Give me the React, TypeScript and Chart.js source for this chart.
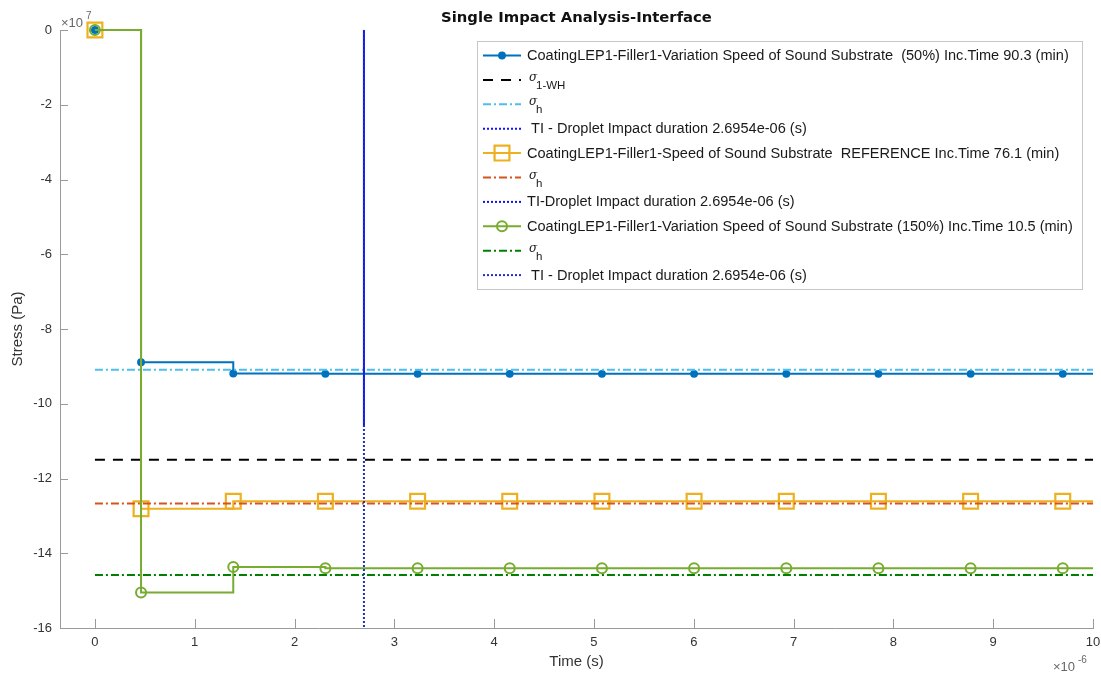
import React, { useEffect, useRef } from 'react';
import Chart from 'chart.js/auto';

// ---- data (time in 1e-6 s, stress in 1e7 Pa) ----
const timeMarks = [0, 0.462, 1.386, 2.309, 3.233, 4.156, 5.08, 6.003, 6.927, 7.85, 8.774, 9.697, 10];
const stress50 = [0, -8.89, -9.19, -9.2, -9.2, -9.2, -9.2, -9.2, -9.2, -9.2, -9.2, -9.2, -9.2];
const stressRef = [0, -12.81, -12.61, -12.61, -12.61, -12.61, -12.61, -12.61, -12.61, -12.61, -12.61, -12.61, -12.61];
const stress150 = [0, -15.05, -14.37, -14.4, -14.4, -14.4, -14.4, -14.4, -14.4, -14.4, -14.4, -14.4, -14.4];
const sigma1WH = -11.5;
const sigmaH50 = -9.09;
const sigmaHRef = -12.67;
const sigmaH150 = -14.58;
const refLineX = [0, 10];
const impactDuration = 2.6954;
const impactTop = 0;
const impactBottoms = [-10.6, -10.6, -16];
const xTickValues = [0, 1, 2, 3, 4, 5, 6, 7, 8, 9, 10];
const yTickValues = [0, -2, -4, -6, -8, -10, -12, -14, -16];

const legendLabels = [
  { text: 'CoatingLEP1-Filler1-Variation Speed of Sound Substrate  (50%) Inc.Time 90.3 (min)' },
  { sigma: '1-WH' },
  { sigma: 'h' },
  { text: ' TI - Droplet Impact duration 2.6954e-06 (s)' },
  { text: 'CoatingLEP1-Filler1-Speed of Sound Substrate  REFERENCE Inc.Time 76.1 (min)' },
  { sigma: 'h' },
  { text: 'TI-Droplet Impact duration 2.6954e-06 (s)' },
  { text: 'CoatingLEP1-Filler1-Variation Speed of Sound Substrate (150%) Inc.Time 10.5 (min)' },
  { sigma: 'h' },
  { text: ' TI - Droplet Impact duration 2.6954e-06 (s)' },
];

const C_BLUE = '#0072BD';
const C_LBLUE = '#4DBEEE';
const C_ORANGE = '#EDB120';
const C_RED = '#D95319';
const C_GREEN = '#77AC30';
const C_DGREEN = '#008000';
const C_TI = ['#1010ff', '#1010ff', '#2030c0'];
const FONT = "'Liberation Sans', Arial, Helvetica, sans-serif";
const AXIS_COLOR = '#9a9a9a';
const TEXT_COLOR = '#333333';

const DASH = [10, 8];
const DASHDOT = [8, 3, 2, 3];
const DOT = [2, 2];

function series(xs: number[], ys: number[]) {
  return xs.map((x, i) => ({ x, y: ys[i] }));
}
function hline(y: number) {
  return refLineX.map((x) => ({ x, y }));
}
function vline(bottom: number) {
  return [{ x: impactDuration, y: impactTop }, { x: impactDuration, y: bottom }];
}
function markerRadii(r: number) {
  return timeMarks.map((_, i) => (i === timeMarks.length - 1 ? 0 : r));
}

function drawMarker(ctx: CanvasRenderingContext2D, ds: any, x: number, y: number) {
  const style = ds.pointStyle;
  const r = Array.isArray(ds.pointRadius) ? ds.pointRadius[0] : ds.pointRadius;
  if (!r) return;
  ctx.save();
  ctx.setLineDash([]);
  ctx.lineWidth = ds.pointBorderWidth;
  ctx.strokeStyle = ds.pointBorderColor;
  ctx.fillStyle = ds.pointBackgroundColor;
  ctx.beginPath();
  if (style === 'rect') {
    const s = Math.SQRT1_2 * r;
    ctx.rect(x - s, y - s, 2 * s, 2 * s);
  } else {
    ctx.arc(x, y, r, 0, Math.PI * 2);
  }
  if (ds.pointBackgroundColor && ds.pointBackgroundColor !== 'transparent') ctx.fill();
  ctx.stroke();
  ctx.restore();
}

const decorPlugin = {
  id: 'decor',
  afterDraw(chart: any) {
    const ctx: CanvasRenderingContext2D = chart.ctx;
    const xs = chart.scales.x;
    const ys = chart.scales.y;
    const area = chart.chartArea;
    ctx.save();
    // inward tick marks
    ctx.strokeStyle = AXIS_COLOR;
    ctx.lineWidth = 1;
    ctx.setLineDash([]);
    ctx.beginPath();
    xTickValues.forEach((v) => {
      const px = Math.round(xs.getPixelForValue(v)) + 0.5;
      ctx.moveTo(px, area.bottom);
      ctx.lineTo(px, area.bottom - 9);
    });
    yTickValues.forEach((v) => {
      const py = Math.round(ys.getPixelForValue(v)) + 0.5;
      ctx.moveTo(area.left, py);
      ctx.lineTo(area.left + 8, py);
    });
    ctx.stroke();

    // title
    ctx.fillStyle = '#111';
    ctx.font = "bold 14.8px 'DejaVu Sans', sans-serif";
    ctx.textAlign = 'center';
    ctx.textBaseline = 'middle';
    ctx.fillText('Single Impact Analysis-Interface', (area.left + area.right) / 2, 18);

    // axis titles
    ctx.fillStyle = TEXT_COLOR;
    ctx.font = `15px ${FONT}`;
    ctx.fillText('Time (s)', (area.left + area.right) / 2, 662);
    ctx.save();
    ctx.translate(18, (area.top + area.bottom) / 2);
    ctx.rotate(-Math.PI / 2);
    ctx.fillText('Stress (Pa)', 0, 0);
    ctx.restore();

    // exponents
    ctx.textAlign = 'left';
    ctx.textBaseline = 'alphabetic';
    ctx.fillStyle = '#666';
    ctx.font = `13px ${FONT}`;
    ctx.fillText('\u00d710', 61, 27);
    ctx.font = `10px ${FONT}`;
    ctx.fillText('7', 86, 19);
    ctx.font = `13px ${FONT}`;
    ctx.fillText('\u00d710', 1053, 671);
    ctx.font = `10px ${FONT}`;
    ctx.fillText('-6', 1078, 663);

    // legend
    const bx = 477, by = 41, bw = 605, bh = 248;
    ctx.fillStyle = '#ffffff';
    ctx.fillRect(bx, by, bw, bh);
    ctx.strokeStyle = '#c6c6c6';
    ctx.lineWidth = 1;
    ctx.strokeRect(bx + 0.5, by + 0.5, bw, bh);
    ctx.font = `13px ${FONT}`;
    const longest = Math.max(...legendLabels.map((l: any) => (l.text ? ctx.measureText(l.text).width : 0)));
    const legendSize = Math.min(15, 13 * 546 / longest);
    const datasets = chart.data.datasets;
    legendLabels.forEach((lab: any, i: number) => {
      const ds = datasets[i];
      const cy = 55.5 + i * 24.4;
      const x0 = 483, x1 = 521;
      ctx.save();
      ctx.strokeStyle = ds.borderColor;
      ctx.lineWidth = ds.borderWidth;
      ctx.setLineDash(ds.borderDash || []);
      ctx.beginPath();
      ctx.moveTo(x0, cy);
      ctx.lineTo(x1, cy);
      ctx.stroke();
      ctx.restore();
      drawMarker(ctx, ds, (x0 + x1) / 2, cy);
      ctx.fillStyle = '#1a1a1a';
      ctx.textBaseline = 'middle';
      ctx.textAlign = 'left';
      if (lab.text !== undefined) {
        ctx.font = `${legendSize}px ${FONT}`;
        ctx.fillText(lab.text, 527, cy + 0.5);
      } else {
        ctx.font = "italic 12px 'DejaVu Serif', serif";
        ctx.fillText('\u03c3', 529, cy - 2);
        ctx.font = `11.5px ${FONT}`;
        ctx.fillText(lab.sigma, 536, cy + 6);
      }
    });
    ctx.restore();
  },
};

export default function App() {
  const ref = useRef<HTMLCanvasElement>(null);
  useEffect(() => {
    if (!ref.current) return;
    const noPoint = { pointRadius: 0, pointHoverRadius: 0 };
    const datasets: any[] = [
      {
        label: 'LEP1 50%', data: series(timeMarks, stress50), stepped: true, showLine: true,
        borderColor: C_BLUE, borderWidth: 2, pointStyle: 'circle', pointRadius: markerRadii(3.2),
        pointBackgroundColor: C_BLUE, pointBorderColor: C_BLUE, pointBorderWidth: 1.5,
      },
      { label: 'sigma1WH', data: hline(sigma1WH), showLine: true, borderColor: '#000', borderWidth: 2, borderDash: DASH, ...noPoint },
      { label: 'sigmaH50', data: hline(sigmaH50), showLine: true, borderColor: C_LBLUE, borderWidth: 2, borderDash: DASHDOT, ...noPoint },
      { label: 'TI1', data: vline(impactBottoms[0]), showLine: true, borderColor: C_TI[0], borderWidth: 2, borderDash: DOT, ...noPoint },
      {
        label: 'LEP1 REF', data: series(timeMarks, stressRef), stepped: true, showLine: true,
        borderColor: C_ORANGE, borderWidth: 2, pointStyle: 'rect', pointRadius: markerRadii(10.5),
        pointBackgroundColor: 'transparent', pointBorderColor: C_ORANGE, pointBorderWidth: 2.2,
      },
      { label: 'sigmaHRef', data: hline(sigmaHRef), showLine: true, borderColor: C_RED, borderWidth: 2, borderDash: DASHDOT, ...noPoint },
      { label: 'TI2', data: vline(impactBottoms[1]), showLine: true, borderColor: C_TI[1], borderWidth: 2, borderDash: DOT, borderDashOffset: 2, ...noPoint },
      {
        label: 'LEP1 150%', data: series(timeMarks, stress150), stepped: true, showLine: true,
        borderColor: C_GREEN, borderWidth: 2, pointStyle: 'circle', pointRadius: markerRadii(5),
        pointBackgroundColor: 'transparent', pointBorderColor: C_GREEN, pointBorderWidth: 2,
      },
      { label: 'sigmaH150', data: hline(sigmaH150), showLine: true, borderColor: C_DGREEN, borderWidth: 2, borderDash: DASHDOT, ...noPoint },
      { label: 'TI3', data: vline(impactBottoms[2]), showLine: true, borderColor: C_TI[2], borderWidth: 2, borderDash: DOT, borderDashOffset: 1, ...noPoint },
    ];
    datasets.forEach((d, i) => {
      d.order = 100 - i;
      d.clip = false;
      d.fill = false;
      d.tension = 0;
    });
    const tickFont = { family: FONT, size: 13 };
    const chart = new Chart(ref.current, {
      type: 'scatter',
      data: { datasets },
      options: {
        responsive: false,
        animation: false,
        devicePixelRatio: 1,
        events: [],
        layout: { autoPadding: false, padding: { top: 30, right: 8, left: 0, bottom: 0 } },
        plugins: { legend: { display: false }, tooltip: { enabled: false }, title: { display: false } },
        scales: {
          x: {
            type: 'linear', min: -0.35, max: 10,
            afterBuildTicks: (s: any) => { s.ticks = xTickValues.map((v) => ({ value: v })); },
            afterFit: (s: any) => { s.height = 45; s.paddingLeft = 0; s.paddingRight = 0; },
            grid: { display: false, drawTicks: false },
            border: { display: true, color: AXIS_COLOR, width: 1 },
            ticks: { padding: 7, color: TEXT_COLOR, font: tickFont, maxRotation: 0, autoSkip: false, callback: (v: any) => String(v) },
          },
          y: {
            type: 'linear', min: -16, max: 0,
            afterBuildTicks: (s: any) => { s.ticks = yTickValues.map((v) => ({ value: v })); },
            afterFit: (s: any) => { s.width = 60; s.paddingTop = 0; s.paddingBottom = 0; },
            grid: { display: false, drawTicks: false },
            border: { display: true, color: AXIS_COLOR, width: 1 },
            ticks: { padding: 8, color: TEXT_COLOR, font: tickFont, autoSkip: false, callback: (v: any) => String(v) },
          },
        },
      } as any,
      plugins: [decorPlugin],
    });
    return () => chart.destroy();
  }, []);
  return (
    <div style={{ position: 'absolute', left: 0, top: 0, width: 1101, height: 673, background: '#fff' }}>
      <canvas ref={ref} width={1101} height={673} style={{ display: 'block' }} />
    </div>
  );
}
